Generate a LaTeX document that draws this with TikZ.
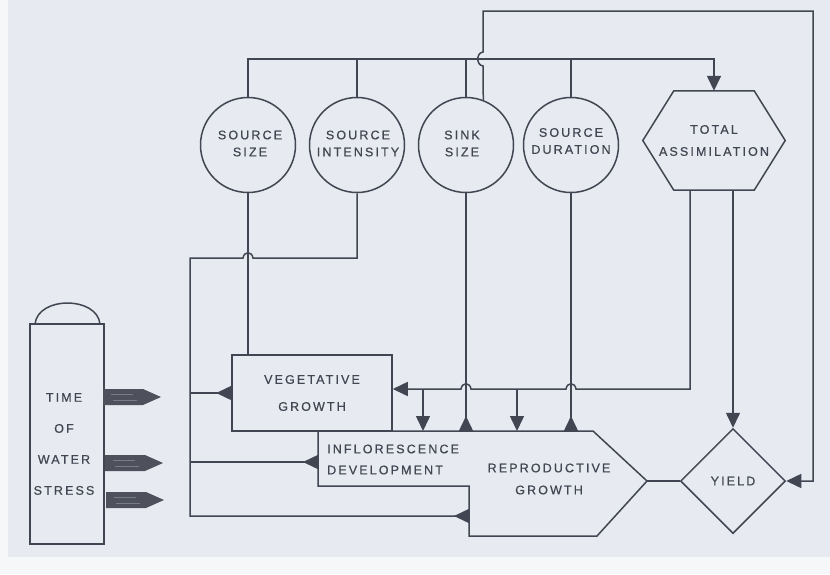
\documentclass[tikz,border=0pt]{standalone}
\usepackage{fontspec}
\newfontfamily\lab[LetterSpace=17,FakeBold=0.6]{Liberation Sans}
\usetikzlibrary{shapes.geometric,arrows.meta}
\definecolor{bg}{RGB}{231,234,241}
\definecolor{ink}{RGB}{66,70,82}
\definecolor{fillk}{RGB}{78,81,91}
\definecolor{streak}{RGB}{120,124,134}
\begin{document}
\begin{tikzpicture}[x=1pt,y=-1pt,
  ln/.style={draw=ink,line width=1.5pt},
  tip/.style={-{Triangle[length=15pt,width=14pt]}},
  lbl/.style={text=ink,font=\lab\fontsize{12.5}{17}\selectfont,align=center,inner sep=0pt},
  circ/.style={circle,ln,minimum size=95pt,inner sep=0pt},
  stress/.style={fill=fillk}
]
\useasboundingbox (0,0) rectangle (830,574);
\fill[bg] (0,0) rectangle (830,574);
\fill[white!60!bg] (0,0) rectangle (8,574);
\fill[white!60!bg] (0,557) rectangle (830,574);

% circles
\node[circ] (ss) at (248,145) {};
\node[lbl] (sst) at (250,143.5) {SOURCE\\SIZE};
\node[circ] (si) at (357,145) {};
\node[lbl] (sit) at (358,143.5) {SOURCE\\INTENSITY};
\node[circ] (sk) at (466,145) {};
\node[lbl] (skt) at (462,143.5) {SINK\\SIZE};
\node[circ] (sd) at (571,145) {};
\node[lbl] (sdt) at (571,141) {SOURCE\\DURATION};

% total assimilation hexagon
\node[lbl,minimum width=142pt,minimum height=99pt,font=\lab\fontsize{12.5}{22}\selectfont] (ta) at (714,140.5) {TOTAL\\ASSIMILATION};
\draw[ln] (ta.west) -- ([xshift=31pt]ta.north west) -- ([xshift=-31pt]ta.north east) -- (ta.east)
  -- ([xshift=-31pt]ta.south east) -- ([xshift=31pt]ta.south west) -- cycle;

% vegetative growth
\node[ln,lbl,minimum width=160pt,minimum height=76pt,font=\lab\fontsize{12.5}{27}\selectfont] (veg) at (312,393) {VEGETATIVE\\GROWTH};

% inflorescence / reproductive outline
\draw[ln] (318,431) -- (593,431) -- (647,481) -- (597,536) -- (469,536) -- (469,486) -- (318,486) -- cycle;
\node[lbl,anchor=west,align=left,font=\lab\fontsize{12.5}{21}\selectfont] (inf) at (327,459.5) {INFLORESCENCE\\DEVELOPMENT};
\node[lbl,font=\lab\fontsize{12.5}{22}\selectfont] (rg) at (549,479) {REPRODUCTIVE\\GROWTH};

% yield
\node[diamond,ln,minimum width=105pt,minimum height=105pt,inner sep=0pt,text=ink,font=\lab\fontsize{12.5}{17}\selectfont] (yd) at (733,481) {YIELD};

% time of water stress column
\node[ln,minimum width=74pt,minimum height=220pt,inner sep=0pt] (col) at (67,434) {};
\draw[ln] (35,324) .. controls (38,296) and (97,296) .. (100,324);
\node[lbl,font=\lab\fontsize{12.5}{31}\selectfont] (wst) at (64,444) {TIME\\OF\\WATER\\STRESS};
\foreach \y/\x in {397/103, 463/105, 500/106}{
  \fill[stress] (\x,\y-8) -- (\x+40,\y-8) -- (\x+58,\y) -- (\x+40,\y+8) -- (\x,\y+8) -- cycle;
  \draw[streak,line width=0.8pt] (\x+8,\y-3) -- (\x+30,\y-3) (\x+10,\y+3) -- (\x+34,\y+3);
}

% top bus
\draw[ln,tip] (ss.north) |- (ta.north |- 0,59) -- (ta.north);
\draw[ln] (si.north) -- (si.north |- 0,59);
\draw[ln] (sk.north) -- (sk.north |- 0,59);
\draw[ln] (sd.north) -- (sd.north |- 0,59);

% sink size feedback to yield
\draw[ln,tip] (sk.69) -- (483,66) .. controls (476,65) and (476,53) .. (483,52) -- (483,11) -- (813,11) -- (813,481) -- (yd.east);

% source size to vegetative growth
\draw[ln] (ss.south) -- (ss.south |- veg.north);

% source intensity to left bus
\draw[ln] (si.south) -- (357,258) -- (253,258) .. controls (252,251) and (244,251) .. (243,258) -- (190,258) -- (190,516) -- (469,516);
\draw[ln] (190,393) -- (veg.west);
\draw[ln] (190,462) -- (318,462);
\draw[ln,tip] (veg.west) -- ++(-15,0);
\draw[ln,tip] (318,462) -- (303,462);
\draw[ln,tip] (469,516) -- (454,516);

% sink size and source duration to reproductive growth
\draw[ln] (sk.south) -- (sk.south |- 0,431);
\draw[ln,tip] (sk.south |- 0,431) -- (sk.south |- 0,416);
\draw[ln] (sd.south) -- (sd.south |- 0,431);
\draw[ln,tip] (sd.south |- 0,431) -- (sd.south |- 0,416);

% total assimilation to growth
\draw[ln,tip] ([xshift=-24pt]ta.south) -- (690,389) -- (576,389) .. controls (575,382) and (567,382) .. (566,389)
  -- (471,389) .. controls (470,382) and (462,382) .. (461,389) -- (veg.east |- 0,389);
\draw[ln,tip] (423,389) -- (423,431);
\draw[ln,tip] (517,389) -- (517,431);

% total assimilation to yield
\draw[ln,tip] ([xshift=19pt]ta.south) -- (yd.north);

% reproductive growth to yield
\draw[ln] (647,481) -- (yd.west);
\end{tikzpicture}
\end{document}
